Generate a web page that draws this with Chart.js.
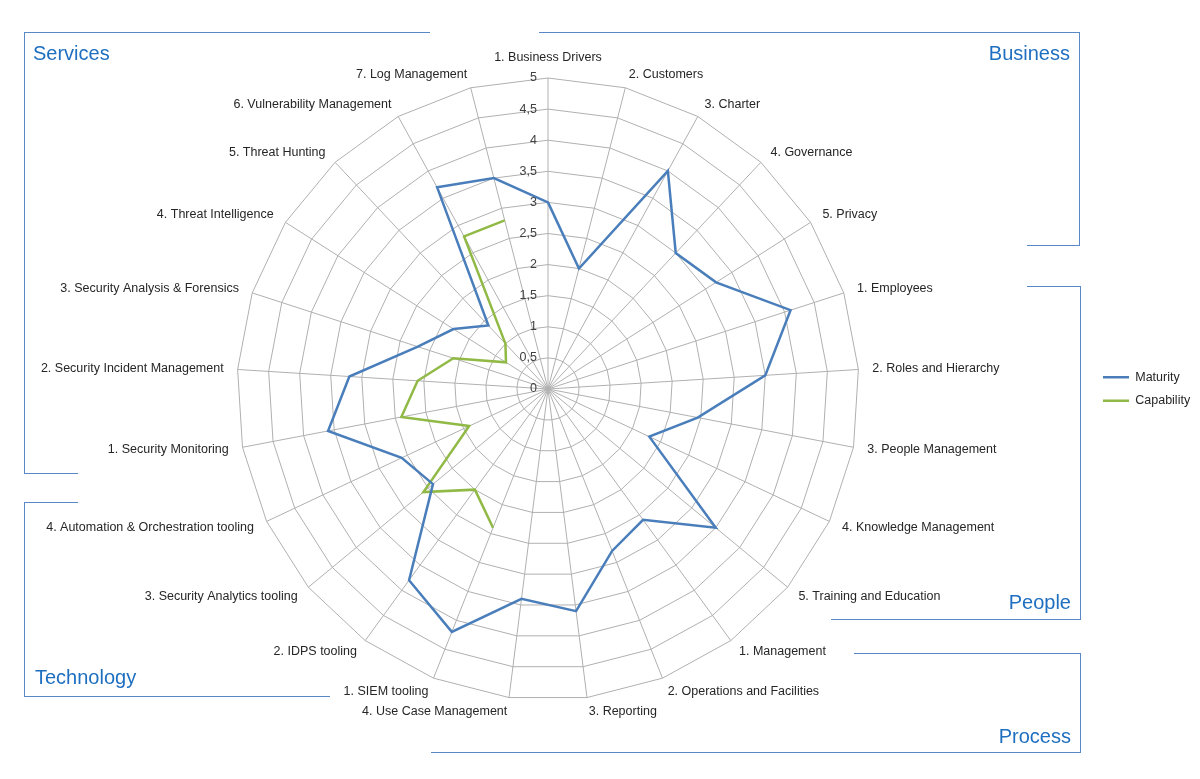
<!DOCTYPE html>
<html>
<head>
<meta charset="utf-8">
<title>SOC maturity radar</title>
<script src="https://cdn.jsdelivr.net/npm/chart.js@4/dist/chart.umd.min.js"></script>
<style>
  body { margin: 0; background: #fff; }
  #wrap { position: relative; width: 1200px; height: 779px; font-family: "Liberation Sans", Arial, sans-serif; }
  #wrap canvas { position: absolute; left: 0; top: 0; }
  .ln { position: absolute; background: #5A88C6; }
  .title { position: absolute; color: #1F6FC0; font-size: 20px; line-height: 24px; white-space: nowrap; }
</style>
</head>
<body>
<div id="wrap">
  <canvas id="radar" width="1200" height="779"></canvas>

  <!-- Services -->
  <div class="ln" style="left:24px;top:32px;width:406px;height:1px"></div>
  <div class="ln" style="left:24px;top:32px;width:1px;height:441px"></div>
  <div class="ln" style="left:24px;top:473px;width:54px;height:1px"></div>
  <div class="title" style="left:33px;top:41px">Services</div>

  <!-- Technology -->
  <div class="ln" style="left:24px;top:502px;width:54px;height:1px"></div>
  <div class="ln" style="left:24px;top:502px;width:1px;height:194px"></div>
  <div class="ln" style="left:24px;top:696px;width:306px;height:1px"></div>
  <div class="title" style="left:35px;top:665px">Technology</div>

  <!-- Business -->
  <div class="ln" style="left:539px;top:32px;width:541px;height:1px"></div>
  <div class="ln" style="left:1079px;top:32px;width:1px;height:214px"></div>
  <div class="ln" style="left:1027px;top:245px;width:53px;height:1px"></div>
  <div class="title" style="right:130px;top:41px">Business</div>

  <!-- People -->
  <div class="ln" style="left:1027px;top:286px;width:54px;height:1px"></div>
  <div class="ln" style="left:1080px;top:286px;width:1px;height:334px"></div>
  <div class="ln" style="left:831px;top:619px;width:250px;height:1px"></div>
  <div class="title" style="right:129px;top:590px">People</div>

  <!-- Process -->
  <div class="ln" style="left:854px;top:653px;width:227px;height:1px"></div>
  <div class="ln" style="left:1080px;top:653px;width:1px;height:100px"></div>
  <div class="ln" style="left:431px;top:752px;width:650px;height:1px"></div>
  <div class="title" style="right:129px;top:724px">Process</div>
</div>

<script>
// categorieen (met de klok mee, vanaf boven)
const categories = [
  '1. Business Drivers', '2. Customers', '3. Charter', '4. Governance', '5. Privacy',
  '1. Employees', '2. Roles and Hierarchy', '3. People Management', '4. Knowledge Management', '5. Training and Education',
  '1. Management', '2. Operations and Facilities', '3. Reporting', '4. Use Case Management',
  '1. SIEM tooling', '2. IDPS tooling', '3. Security Analytics tooling', '4. Automation & Orchestration tooling',
  '1. Security Monitoring', '2. Security Incident Management', '3. Security Analysis & Forensics',
  '4. Threat Intelligence', '5. Threat Hunting', '6. Vulnerability Management', '7. Log Management'
];

const maturity = [3.0, 2.0, 4.0, 3.0, 3.2, 4.1, 3.5, 2.45, 1.8, 3.5, 2.6, 2.8, 3.6, 3.4,
  4.2, 3.8, 2.4, 2.6, 3.6, 3.2, 2.2, 1.8, 1.4, 3.7, 3.5];

const capability = [null, null, null, null, null, null, null, null, null, null, null, null, null, null,
  2.4, 2.0, 2.6, 1.4, 2.4, 2.1, 1.6, 0.8, 1.0, 2.8, 2.8];

const tickLabels = ['0', '0,5', '1', '1,5', '2', '2,5', '3', '3,5', '4', '4,5', '5'];

const fontFamily = '"Liberation Sans", Arial, sans-serif';

// labels rond de radar en de schaalwaarden links van de as
const spokeLabels = {
  id: 'spokeLabels',
  afterDraw(chart) {
    const r = chart.scales.r;
    const ctx = chart.ctx;
    ctx.save();
    ctx.font = '12.5px ' + fontFamily;
    ctx.fillStyle = '#262626';
    categories.forEach((text, i) => {
      const deg = Math.round(i * 360 / categories.length);
      const pos = r.getPointPosition(i, r.drawingArea + 14);
      if (deg === 0) {
        ctx.textAlign = 'center';
        ctx.textBaseline = 'bottom';
      } else {
        ctx.textAlign = deg < 180 ? 'left' : 'right';
        ctx.textBaseline = 'middle';
      }
      ctx.fillText(text, pos.x, pos.y);
    });
    ctx.fillStyle = '#404040';
    ctx.textAlign = 'right';
    ctx.textBaseline = 'middle';
    r.ticks.forEach((t, i) => {
      ctx.fillText(tickLabels[i], r.xCenter - 11, r.yCenter - r.getDistanceFromCenterForValue(t.value));
    });
    ctx.restore();
  }
};

const ctx = document.getElementById('radar').getContext('2d');
new Chart(ctx, {
  type: 'radar',
  data: {
    labels: categories,
    datasets: [
      {
        label: 'Maturity',
        data: maturity,
        borderColor: '#4A7EBB',
        backgroundColor: '#4A7EBB',
        borderWidth: 2.5,
        fill: false,
        pointRadius: 0,
        pointHoverRadius: 0
      },
      {
        label: 'Capability',
        data: capability,
        borderColor: '#90B945',
        backgroundColor: '#90B945',
        borderWidth: 2.5,
        fill: false,
        pointRadius: 0,
        pointHoverRadius: 0
      }
    ]
  },
  options: {
    responsive: false,
    animation: false,
    layout: { padding: { left: 4, right: 8, top: 78, bottom: 79 } },
    plugins: {
      tooltip: { enabled: false },
      legend: {
        position: 'right',
        maxWidth: 100,
        labels: {
          usePointStyle: true,
          pointStyle: 'line',
          pointStyleWidth: 26,
          padding: 11,
          color: '#262626',
          font: { size: 12.5, family: fontFamily }
        }
      }
    },
    scales: {
      r: {
        min: 0,
        max: 5,
        ticks: { stepSize: 0.5, display: false },
        grid: { color: '#B0B0B0', lineWidth: 1 },
        angleLines: { color: '#B0B0B0', lineWidth: 1 },
        pointLabels: { display: false }
      }
    }
  },
  plugins: [spokeLabels]
});
</script>
</body>
</html>
